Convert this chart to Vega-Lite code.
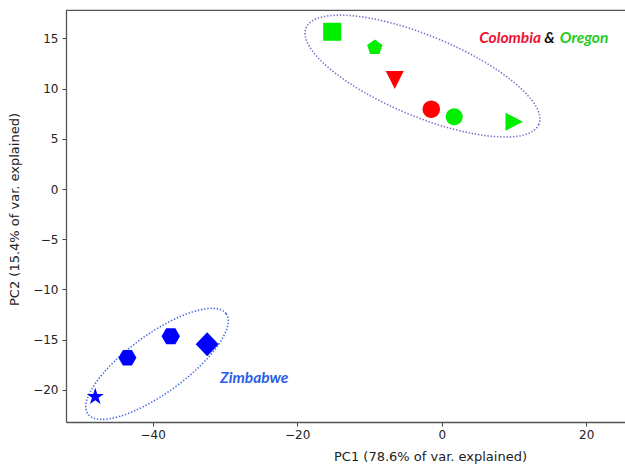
{
  "$schema": "https://vega.github.io/schema/vega-lite/v6.json",
  "autosize": "none",
  "padding": {"left": 66, "top": 10, "right": 0, "bottom": 43},
  "width": 559,
  "height": 412,
  "background": "white",
  "config": {
    "font": "DejaVu Sans",
    "view": {"stroke": null},
    "axis": {
      "grid": false,
      "domain": true,
      "domainColor": "#555",
      "domainWidth": 1.3,
      "tickColor": "#444",
      "tickSize": 4,
      "tickWidth": 1,
      "labelFont": "DejaVu Sans",
      "labelFontSize": 12,
      "labelColor": "#222",
      "titleFont": "DejaVu Sans",
      "titleFontSize": 13,
      "titleFontWeight": "normal",
      "titleColor": "#222"
    }
  },
  "datasets": {
    "samples": [
      {"sample": "O1", "group": "Oregon", "PC1": -15.16, "PC2": 15.66},
      {"sample": "O2", "group": "Oregon", "PC1": -9.26, "PC2": 14.09},
      {"sample": "C1", "group": "Colombia", "PC1": -6.5, "PC2": 10.85},
      {"sample": "C2", "group": "Colombia", "PC1": -1.44, "PC2": 7.95},
      {"sample": "O3", "group": "Oregon", "PC1": 1.73, "PC2": 7.2},
      {"sample": "O4", "group": "Oregon", "PC1": 10.0, "PC2": 6.7},
      {"sample": "Z1", "group": "Zimbabwe", "PC1": -47.95, "PC2": -20.69},
      {"sample": "Z2", "group": "Zimbabwe", "PC1": -43.5, "PC2": -16.8},
      {"sample": "Z3", "group": "Zimbabwe", "PC1": -37.5, "PC2": -14.66},
      {"sample": "Z4", "group": "Zimbabwe", "PC1": -32.46, "PC2": -15.46}
    ]
  },
  "layer": [
    {
      "data": {"values": [{"PC1": -2.66, "PC2": 11.25}]},
      "mark": {
        "type": "point",
        "filled": false,
        "shape": "M1,0C1,0.1767 0.5523,0.32 0,0.32C-0.5523,0.32 -1,0.1767 -1,0C-1,-0.1767 -0.5523,-0.32 0,-0.32C0.5523,-0.32 1,-0.1767 1,0Z",
        "size": 63504,
        "angle": 22.5,
        "stroke": "#8a6cc8",
        "strokeWidth": 1.6,
        "strokeDash": [1.4, 1.8],
        "opacity": 1
      },
      "encoding": {
        "x": {"field": "PC1", "type": "quantitative"},
        "y": {"field": "PC2", "type": "quantitative"}
      }
    },
    {
      "data": {"values": [{"PC1": -39.4, "PC2": -17.41}]},
      "mark": {
        "type": "point",
        "filled": false,
        "shape": "M1,0C1,0.19 0.5523,0.344 0,0.344C-0.5523,0.344 -1,0.19 -1,0C-1,-0.19 -0.5523,-0.344 0,-0.344C0.5523,-0.344 1,-0.19 1,0Z",
        "size": 29173,
        "angle": 324,
        "stroke": "#4a6ee0",
        "strokeWidth": 1.6,
        "strokeDash": [1.4, 1.8],
        "opacity": 1
      },
      "encoding": {
        "x": {"field": "PC1", "type": "quantitative"},
        "y": {"field": "PC2", "type": "quantitative"}
      }
    },
    {
      "mark": {"type": "rule", "color": "#111", "strokeWidth": 2.2, "strokeDash": [2, 2.4]},
      "encoding": {"x": {"datum": 0, "type": "quantitative"}}
    },
    {
      "mark": {"type": "rule", "color": "#111", "strokeWidth": 2.2, "strokeDash": [2, 2.4]},
      "encoding": {"y": {"datum": 0, "type": "quantitative"}}
    },
    {
      "data": {"values": [{"PC2": 17.8}]},
      "mark": {"type": "rule", "color": "#555", "strokeWidth": 1.3},
      "encoding": {"y": {"field": "PC2", "type": "quantitative"}}
    },
    {
      "data": {"name": "samples"},
      "mark": {"type": "point", "filled": true, "opacity": 1, "size": 400, "strokeWidth": 0},
      "encoding": {
        "x": {
          "field": "PC1",
          "type": "quantitative",
          "scale": {"domain": [-52, 25.37], "nice": false, "zero": false},
          "axis": {
            "values": [-40, -20, 0, 20],
            "title": "PC1 (78.6% of var. explained)",
            "titleX": 364,
            "titleY": 34,
            "titleBaseline": "middle",
            "titleAlign": "center",
            "labelPadding": 3
          }
        },
        "y": {
          "field": "PC2",
          "type": "quantitative",
          "scale": {"domain": [-23.2, 17.83], "nice": false, "zero": false},
          "axis": {
            "values": [-20, -15, -10, -5, 0, 5, 10, 15],
            "title": "PC2 (15.4% of var. explained)",
            "titleX": -52,
            "titleY": 199,
            "titleBaseline": "middle",
            "titleAlign": "center",
            "labelPadding": 4
          }
        },
        "color": {
          "field": "group",
          "type": "nominal",
          "scale": {"domain": ["Colombia", "Oregon", "Zimbabwe"], "range": ["#ff0000", "#00ee00", "#0000ff"]},
          "legend": null
        },
        "shape": {
          "field": "sample",
          "type": "nominal",
          "scale": {
            "domain": ["O1", "O2", "C1", "C2", "O3", "O4", "Z1", "Z2", "Z3", "Z4"],
            "range": [
              "M-0.9,-0.9L0.9,-0.9L0.9,0.9L-0.9,0.9Z",
              "M0,-0.8L0.761,-0.247L0.47,0.647L-0.47,0.647L-0.761,-0.247Z",
              "M-0.9,-0.9L0.9,-0.9L0,0.9Z",
              "M0.87,0A0.87,0.87,0,1,1,-0.87,0A0.87,0.87,0,1,1,0.87,0Z",
              "M0.85,0A0.85,0.85,0,1,1,-0.85,0A0.85,0.85,0,1,1,0.85,0Z",
              "M-0.85,-0.9L0.9,0L-0.85,0.9Z",
              "M0,-0.9L0.202,-0.278L0.856,-0.278L0.327,0.106L0.529,0.728L0,0.344L-0.529,0.728L-0.327,0.106L-0.856,-0.278L-0.202,-0.278Z",
              "M-0.9,0L-0.45,-0.78L0.45,-0.78L0.9,0L0.45,0.78L-0.45,0.78Z",
              "M-0.92,0L-0.46,-0.8L0.46,-0.8L0.92,0L0.46,0.8L-0.46,0.8Z",
              "M0,-1.2L1.15,0L0,1.2L-1.15,0Z"
            ]
          },
          "legend": null
        }
      }
    },
    {
      "data": {"values": [
        {"PC1": 5.2, "PC2": 14.51, "label": "Colombia", "part": "Colombia"},
        {"PC1": 14.2, "PC2": 14.51, "label": "&", "part": "and"},
        {"PC1": 16.35, "PC2": 14.51, "label": "Oregon", "part": "Oregon"},
        {"PC1": -30.68, "PC2": -19.35, "label": "Zimbabwe", "part": "Zimbabwe"}
      ]},
      "mark": {"type": "text", "font": "Lato", "fontSize": 15.5, "fontWeight": "bold", "fontStyle": "italic", "align": "left", "baseline": "alphabetic"},
      "encoding": {
        "x": {"field": "PC1", "type": "quantitative"},
        "y": {"field": "PC2", "type": "quantitative"},
        "text": {"field": "label"},
        "color": {
          "field": "part",
          "type": "nominal",
          "scale": {"domain": ["Colombia", "and", "Oregon", "Zimbabwe"], "range": ["#ee1133", "#111111", "#22cc22", "#2a5ee8"]},
          "legend": null
        }
      }
    }
  ],
  "resolve": {"scale": {"color": "independent"}}
}
